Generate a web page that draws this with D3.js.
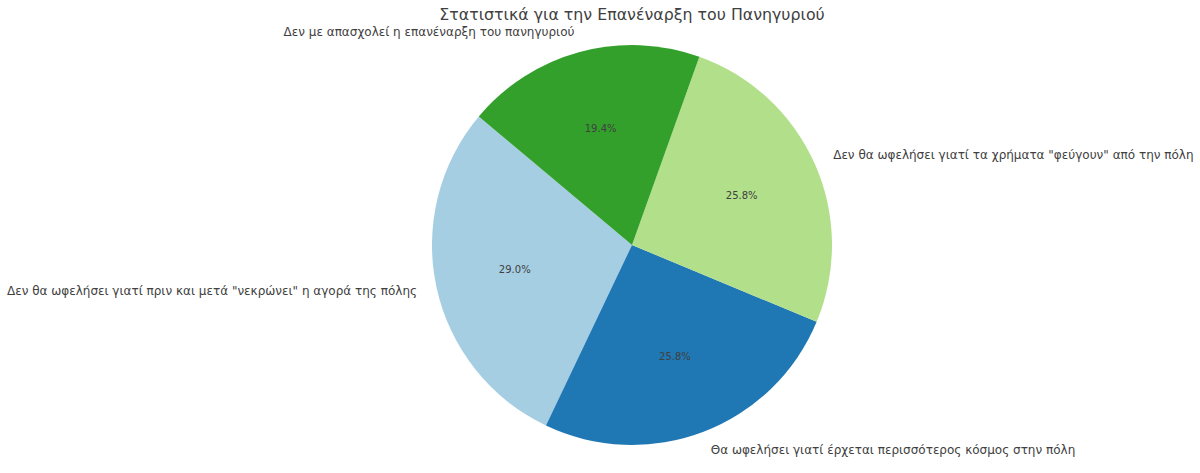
<!DOCTYPE html>
<html>
<head>
<meta charset="utf-8">
<script src="https://cdn.jsdelivr.net/npm/d3@7"></script>
<style>
  body { margin: 0; background: #fff; }
  svg text { font-family: "DejaVu Sans", sans-serif; fill: #404040; }
</style>
</head>
<body>
<div id="chart"></div>
<script>
// data (counts out of 31 answers)
var categories = [
    "Δεν θα ωφελήσει γιατί πριν και μετά \"νεκρώνει\" η αγορά της πόλης",
    "Θα ωφελήσει γιατί έρχεται περισσότερος κόσμος στην πόλη",
    "Δεν θα ωφελήσει γιατί τα χρήματα \"φεύγουν\" από την πόλη",
    "Δεν με απασχολεί η επανέναρξη του πανηγυριού"
];
var values = [9, 8, 8, 6];
var colors = ["#a6cee3", "#1f78b4", "#b2df8a", "#33a02c"];
var title = "Στατιστικά για την Επανέναρξη του Πανηγυριού";

var width = 1200, height = 473;
var cx = 632, cy = 245, radius = 200;
var startAngle = 140; // degrees, counter-clockwise like matplotlib

var svg = d3.select("#chart").append("svg")
    .attr("width", width)
    .attr("height", height);

svg.append("text")
    .attr("x", cx)
    .attr("y", 15)
    .attr("text-anchor", "middle")
    .attr("dominant-baseline", "middle")
    .style("font-size", "15.8px")
    .text(title);

// d3 angles run clockwise from 12 o'clock; convert from matplotlib convention
function toD3(deg) { return (90 - deg) * Math.PI / 180; }

var total = d3.sum(values);
var pie = d3.pie()
    .sort(null)
    .value(function (d) { return d; })
    .startAngle(toD3(startAngle))
    .endAngle(toD3(startAngle) - 2 * Math.PI);

var arcs = pie(values);
var arc = d3.arc().innerRadius(0).outerRadius(radius);

var g = svg.append("g").attr("transform", "translate(" + cx + "," + cy + ")");

g.selectAll("path")
    .data(arcs)
    .enter()
    .append("path")
    .attr("d", arc)
    .attr("fill", function (d, i) { return colors[i]; });

function midPoint(d, r) {
    var a = (d.startAngle + d.endAngle) / 2;
    return [Math.sin(a) * r, -Math.cos(a) * r];
}

// category labels outside the pie
g.selectAll("text.label")
    .data(arcs)
    .enter()
    .append("text")
    .attr("class", "label")
    .attr("x", function (d) { return midPoint(d, radius * 1.1)[0]; })
    .attr("y", function (d) { return midPoint(d, radius * 1.1)[1]; })
    .attr("text-anchor", function (d) { return midPoint(d, 1)[0] < 0 ? "end" : "start"; })
    .attr("dominant-baseline", "middle")
    .style("font-size", "12px")
    .text(function (d, i) { return categories[i]; });

// percentages inside
g.selectAll("text.pct")
    .data(arcs)
    .enter()
    .append("text")
    .attr("class", "pct")
    .attr("x", function (d) { return midPoint(d, radius * 0.6)[0]; })
    .attr("y", function (d) { return midPoint(d, radius * 0.6)[1]; })
    .attr("text-anchor", "middle")
    .attr("dominant-baseline", "middle")
    .style("font-size", "10px")
    .text(function (d) { return (d.value / total * 100).toFixed(1) + "%"; });
</script>
</body>
</html>
